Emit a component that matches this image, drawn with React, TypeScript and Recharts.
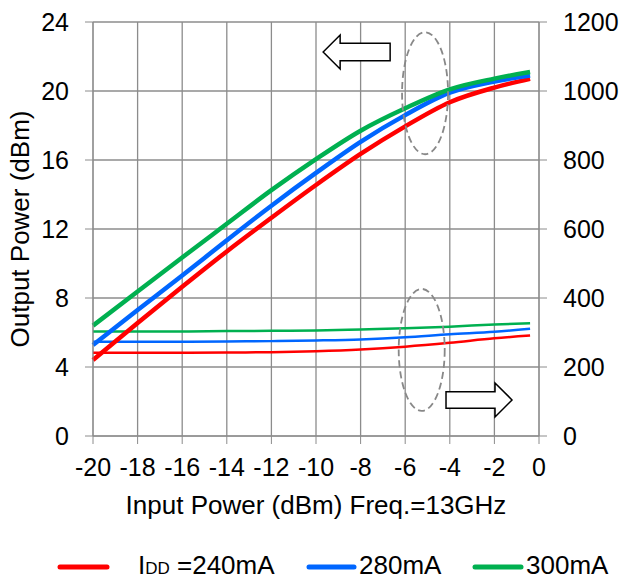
import {
  LineChart,
  Line,
  XAxis,
  YAxis,
  CartesianGrid,
  Legend,
  ReferenceDot,
} from 'recharts';

// Input power sweep (dBm)
const inputPower = [-20, -18, -16, -14, -12, -10, -8, -6, -4, -2, -0.4];

// Output power (dBm), left axis
const pout240 = [4.4, 6.55, 8.65, 10.7, 12.65, 14.55, 16.35, 17.95, 19.35, 20.2, 20.7];
const pout280 = [5.27, 7.3, 9.3, 11.35, 13.35, 15.25, 17.05, 18.6, 19.9, 20.55, 20.9];
const pout300 = [6.4, 8.38, 10.35, 12.3, 14.25, 16.05, 17.7, 19.0, 20.1, 20.72, 21.1];

// Drain current (mA), right axis
const idd240 = [241, 241, 241, 242, 243, 246, 251, 259, 270, 283, 291];
const idd280 = [273, 273, 273, 274, 275, 277, 280, 286, 295, 302, 311];
const idd300 = [303, 303, 303, 304, 305, 306, 309, 312, 317, 323, 327];

const xTicks = [-20, -18, -16, -14, -12, -10, -8, -6, -4, -2, 0];
const leftTicks = [0, 4, 8, 12, 16, 20, 24];
const rightTicks = [0, 200, 400, 600, 800, 1000, 1200];

const RED = '#ff0000';
const BLUE = '#0066ff';
const GREEN = '#00b050';
const GRID = '#8c8c8c';
const FONT = '"Liberation Sans", Arial, sans-serif';

const data = inputPower.map((x, i) => ({
  x,
  p240: pout240[i],
  p280: pout280[i],
  p300: pout300[i],
  i240: idd240[i],
  i280: idd280[i],
  i300: idd300[i],
}));

const tickStyle = { fill: '#000', fontSize: 25, fontFamily: FONT };

// dashed ellipse marking a group of curves
const DashedEllipse = (props: any) => (
  <ellipse
    cx={props.cx}
    cy={props.cy}
    rx={23}
    ry={61}
    fill="none"
    stroke="#888"
    strokeWidth={1.8}
    strokeDasharray="7 4"
  />
);

const ArrowLeft = (props: any) => {
  const { cx, cy } = props;
  const pts = [
    [-33, 0], [-16, -17], [-16, -8.7], [34, -8.7],
    [34, 8.7], [-16, 8.7], [-16, 17],
  ].map(([dx, dy]) => `${cx + dx},${cy + dy}`).join(' ');
  return <polygon points={pts} fill="#fff" stroke="#000" strokeWidth={1.5} />;
};

const ArrowRight = (props: any) => {
  const { cx, cy } = props;
  const pts = [
    [33, 0], [16, -17], [16, -8.3], [-33, -8.3],
    [-33, 8.3], [16, 8.3], [16, 17],
  ].map(([dx, dy]) => `${cx + dx},${cy + dy}`).join(' ');
  return <polygon points={pts} fill="#fff" stroke="#000" strokeWidth={1.5} />;
};

const renderLegend = () => (
  <svg width={623} height={44} style={{ display: 'block', overflow: 'visible' }}>
    <g fontFamily={FONT} fontSize={26} fill="#000">
      <line x1={60} y1={31} x2={107} y2={31} stroke={RED} strokeWidth={5} strokeLinecap="round" />
      <text x={138} y={38}>
        I<tspan fontSize={17}>DD</tspan> =240mA
      </text>
      <line x1={309} y1={31} x2={354} y2={31} stroke={BLUE} strokeWidth={5} strokeLinecap="round" />
      <text x={359} y={38}>280mA</text>
      <line x1={475} y1={31} x2={521} y2={31} stroke={GREEN} strokeWidth={5} strokeLinecap="round" />
      <text x={526} y={38}>300mA</text>
    </g>
  </svg>
);

export default function App() {
  return (
    <div style={{ position: 'absolute', left: 0, top: 0, background: '#fff' }}>
      <LineChart
        width={623}
        height={580}
        data={data}
        margin={{ top: 22, right: 0, bottom: 0, left: 0 }}
      >
        <CartesianGrid yAxisId="left" stroke={GRID} strokeWidth={1.3} />
        <XAxis
          dataKey="x"
          type="number"
          domain={[-20, 0]}
          ticks={xTicks}
          height={100}
          tick={tickStyle}
          tickSize={8}
          tickMargin={14}
          stroke={GRID}
          label={{
            value: 'Input Power (dBm) Freq.=13GHz',
            position: 'insideBottom',
            offset: 22,
            style: { fill: '#000', fontSize: 26, fontFamily: FONT },
          }}
        />
        <YAxis
          yAxisId="left"
          domain={[0, 24]}
          ticks={leftTicks}
          width={93}
          tick={tickStyle}
          tickSize={8}
          tickMargin={16}
          stroke={GRID}
          label={{
            value: 'Output Power (dBm)',
            angle: -90,
            position: 'insideLeft',
            offset: 20,
            style: { fill: '#000', fontSize: 26, fontFamily: FONT, textAnchor: 'middle' },
          }}
        />
        <YAxis
          yAxisId="right"
          orientation="right"
          domain={[0, 1200]}
          ticks={rightTicks}
          width={84}
          tick={tickStyle}
          tickSize={8}
          tickMargin={16}
          stroke={GRID}
        />
        <Legend verticalAlign="bottom" content={renderLegend} wrapperStyle={{ height: 44, width: 623, left: 0 }} />

        <Line yAxisId="right" type="monotone" dataKey="i240" stroke={RED} strokeWidth={2.5} dot={false} isAnimationActive={false} />
        <Line yAxisId="right" type="monotone" dataKey="i280" stroke={BLUE} strokeWidth={2.5} dot={false} isAnimationActive={false} />
        <Line yAxisId="right" type="monotone" dataKey="i300" stroke={GREEN} strokeWidth={2.5} dot={false} isAnimationActive={false} />

        <Line yAxisId="left" type="monotone" dataKey="p240" stroke={RED} strokeWidth={4.5} dot={false} isAnimationActive={false} />
        <Line yAxisId="left" type="monotone" dataKey="p280" stroke={BLUE} strokeWidth={4.5} dot={false} isAnimationActive={false} />
        <Line yAxisId="left" type="monotone" dataKey="p300" stroke={GREEN} strokeWidth={4.5} dot={false} isAnimationActive={false} />

        {/* annotations */}
        <ReferenceDot yAxisId="left" x={-5.11} y={19.87} shape={DashedEllipse} ifOverflow="visible" />
        <ReferenceDot yAxisId="left" x={-5.26} y={4.99} shape={DashedEllipse} ifOverflow="visible" />
        <ReferenceDot yAxisId="left" x={-8.2} y={22.26} shape={ArrowLeft} ifOverflow="visible" />
        <ReferenceDot yAxisId="left" x={-2.69} y={2.09} shape={ArrowRight} ifOverflow="visible" />
      </LineChart>
    </div>
  );
}
